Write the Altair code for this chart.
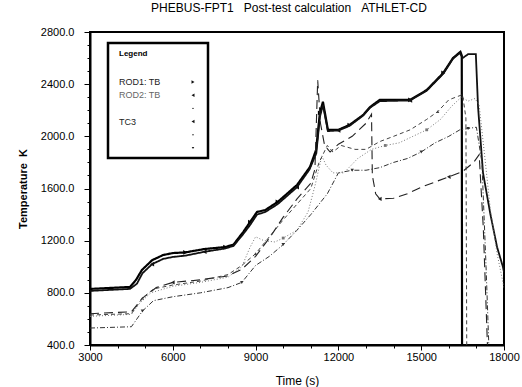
import altair as alt
import pandas as pd

NB = "\u00a0"
title_text = "PHEBUS-FPT1" + NB * 3 + "Post-test calculation" + NB * 3 + "ATHLET-CD"
x_title = "Time (s)"
y_title = "Temperature" + NB * 2 + "K"
FONT = "Liberation Sans"

# ---- series values (time s, temperature K) ----
rod1_t = [3000, 4450, 4670, 4880, 5250, 5650, 6000, 6450, 7150, 7900, 8200, 8550, 8800, 9050, 9350,
          9800, 10500, 10970, 11190, 11330, 11440, 11620, 12000, 12400, 12900, 13150, 13500, 14600,
          15200, 15800, 16150, 16420, 16470, 16480]
rod1_T = [830, 845, 900, 975, 1050, 1090, 1105, 1110, 1136, 1151, 1170, 1266, 1343, 1420, 1435,
          1497, 1627, 1765, 1895, 2180, 2265, 2050, 2050, 2087, 2164, 2225, 2280, 2280,
          2355, 2486, 2600, 2648, 2620, 400]
rod1_mk = [7, 9, 12, 15, 19, 23, 27, 29]

rod2_t = [3000, 4450, 4700, 4900, 5250, 5650, 6000, 6450, 7150, 7900, 8200, 8550, 8800, 9050, 9350,
          9800, 10500, 10950, 11200, 11330, 11440, 11620, 12000, 12400, 12900, 13150, 13500, 14600,
          15200, 15800, 16150, 16400, 16500, 16700, 16980, 17060, 17240, 17500, 17750, 17960, 18000]
rod2_T = [815, 830, 870, 950, 1020, 1060, 1075, 1085, 1115, 1140, 1160, 1250, 1320, 1400, 1420,
          1480, 1610, 1745, 1870, 2150, 2240, 2040, 2045, 2080, 2160, 2220, 2270, 2275,
          2350, 2480, 2595, 2640, 2600, 2630, 2630, 2225, 1720, 1410, 1150, 1000, 960]
rod2_mk = [4, 8, 16, 22, 27]

s3_t = [3000, 4500, 4800, 5200, 6000, 7000, 8000, 8500, 8800, 9000, 9300, 9700, 10000, 10500, 10900,
        11150, 11400, 11550, 11800, 12200, 12700, 13200, 13700, 14200, 14700, 15200, 15700, 16100,
        16450, 16700, 16950, 17100, 17300, 17500, 17750, 18000]
s3_T = [620, 635, 720, 800, 850, 880, 920, 1000, 1150, 1230, 1200, 1190, 1220, 1280, 1420,
        1620, 1850, 1780, 1720, 1720, 1830, 1900, 1930, 1950, 2000, 2050, 2130, 2230,
        2300, 2270, 2290, 2240, 1850, 1450, 1100, 840]
s3_mk = [12, 22, 25]

tc3_t = [3000, 4500, 4900, 5400, 6000, 7000, 8000, 8500, 9000, 9500, 10000, 10500, 11000, 11150,
         11250, 11350, 11500, 11700, 12000, 12500, 13000, 13200, 13230, 13350, 13500, 14000, 14500,
         15000, 15500, 16000, 16500, 16900, 17100, 17250, 17400]
tc3_T = [640, 655, 760, 840, 880, 900, 930, 980, 1080, 1220, 1380, 1520, 1640, 1750,
         2430, 2100, 1930, 1880, 1940, 2000, 2100, 2170, 1700, 1560, 1520, 1525, 1560,
         1610, 1650, 1690, 1730, 1800, 1860, 1300, 400]
tc3_mk = [4, 24, 29]

s5_t = [3000, 4500, 4900, 5300, 6000, 7000, 8000, 8500, 9000, 9500, 10000, 10500, 11000, 11300,
        11600, 11800, 12100, 12600, 13000, 13500, 14000, 14600, 15200, 15600, 16000, 16500, 16620, 16650]
s5_T = [630, 640, 760, 830, 860, 890, 940, 1010, 1100, 1230, 1360, 1480, 1600, 1800,
        1930, 1880, 1930, 1900, 1900, 1960, 2000, 2050, 2130, 2190, 2280, 2320, 2140, 400]
s5_mk = [2, 8, 23]

s6_t = [3000, 4500, 4900, 5300, 6000, 7000, 8000, 8500, 9000, 9500, 10000, 10500, 11000, 11300,
        11600, 12000, 12500, 13000, 13500, 14000, 14500, 15000, 15500, 16000, 16400, 16700, 17000,
        17200, 17350, 17450]
s6_T = [530, 540, 660, 740, 770, 800, 840, 880, 1010, 1080, 1170, 1280, 1400, 1480,
        1560, 1720, 1740, 1740, 1760, 1800, 1830, 1880, 1950, 2000, 2050, 2060, 2070,
        1800, 1000, 400]
s6_mk = [2, 7, 10, 16, 21, 25]

legend_labels = ["ROD1: TB", "ROD2: TB", "", "TC3", "", ""]
legend_shapes = ["triangle-right", "triangle-left", "circle", "triangle-left", "circle", "triangle-down"]
legend_sizes = [12, 12, 2, 12, 2, 6]
legend_text_colors = ["#222222", "#666666", "#222222", "#222222", "#222222", "#222222"]

series = [
    dict(name="ROD1: TB", t=rod1_t, T=rod1_T, mk=rod1_mk, color="#000000", width=2.2, dash=[1, 0], shape="triangle-right", msize=22),
    dict(name="ROD2: TB", t=rod2_t, T=rod2_T, mk=rod2_mk, color="#111111", width=1.8, dash=[1, 0], shape="triangle-left", msize=22),
    dict(name="S3", t=s3_t, T=s3_T, mk=s3_mk, color="#777777", width=1.0, dash=[1, 2], shape="square", msize=8),
    dict(name="TC3", t=tc3_t, T=tc3_T, mk=tc3_mk, color="#222222", width=1.1, dash=[9, 5], shape="triangle-left", msize=18),
    dict(name="S5", t=s5_t, T=s5_T, mk=s5_mk, color="#444444", width=1.0, dash=[4, 3], shape="triangle-up", msize=10),
    dict(name="S6", t=s6_t, T=s6_T, mk=s6_mk, color="#333333", width=1.0, dash=[5, 2, 1, 2], shape="triangle-down", msize=12),
]

x_scale = alt.Scale(domain=[3000, 18000], nice=False, zero=False)
y_scale = alt.Scale(domain=[400, 2800], nice=False, zero=False)

x_axis = alt.Axis(
    title=x_title, values=list(range(3000, 18001, 1000)), format="d",
    labelExpr="datum.value % 3000 === 0 ? datum.label : ''",
    tickSize={"condition": {"test": "datum.value % 3000 === 0", "value": 5}, "value": 3},
    labelPadding=1, titlePadding=13, labelOverlap=False, labelFlush=False, grid=False,
)
y_axis = alt.Axis(
    title=y_title, values=list(range(400, 2801, 100)),
    labelExpr="datum.value % 400 === 0 ? format(datum.value, '.1f') : ''",
    tickSize={"condition": {"test": "datum.value % 400 === 0", "value": 6}, "value": 3},
    labelPadding=10, titlePadding=12, labelOverlap=False, labelFlush=False, grid=False,
    titleFontWeight="bold",
)

X = alt.X("t:Q", scale=x_scale, axis=x_axis)
Y = alt.Y("T:Q", scale=y_scale, axis=y_axis)

layers = []
for s in series:
    df = pd.DataFrame({"t": s["t"], "T": s["T"]})
    layers.append(
        alt.Chart(df).mark_line(color=s["color"], strokeWidth=s["width"], strokeDash=s["dash"], clip=True)
        .encode(x=X, y=Y, order="t:Q")
    )
    mdf = df.iloc[s["mk"]]
    layers.append(
        alt.Chart(mdf).mark_point(shape=s["shape"], filled=True, color=s["color"], size=s["msize"], opacity=1, clip=True)
        .encode(x=X, y=Y)
    )

# ---- legend box (decoration, pixel placed) ----
box = alt.Chart(pd.DataFrame({"k": [0]})).mark_rect(fill="white", stroke="black", strokeWidth=2.5).encode(
    x=alt.value(18), x2=alt.value(118), y=alt.value(11), y2=alt.value(126)
)
leg_title = alt.Chart(pd.DataFrame({"k": ["Legend"]})).mark_text(
    align="left", baseline="middle", font=FONT, fontSize=8, fontWeight="bold", color="black"
).encode(x=alt.value(29), y=alt.value(22), text="k:N")

leg_df = pd.DataFrame({
    "label": legend_labels,
    "shape": legend_shapes,
    "msize": legend_sizes,
    "tcol": legend_text_colors,
    "row": list(range(len(legend_labels))),
})
leg_df["py"] = 50 + leg_df["row"] * 13.2
leg_df["px_text"] = 29
leg_df["px_mark"] = 103
leg_text = alt.Chart(leg_df).mark_text(
    align="left", baseline="middle", font=FONT, fontSize=9
).encode(x=alt.X("px_text:Q", scale=None, axis=None), y=alt.Y("py:Q", scale=None, axis=None),
         text="label:N", color=alt.Color("tcol:N", scale=None, legend=None))
leg_marks = alt.Chart(leg_df).mark_point(filled=True, color="#111111", opacity=1).encode(
    x=alt.X("px_mark:Q", scale=None, axis=None), y=alt.Y("py:Q", scale=None, axis=None),
    shape=alt.Shape("shape:N", scale=None, legend=None),
    size=alt.Size("msize:Q", scale=None, legend=None),
)

chart = alt.layer(*layers, box, leg_title, leg_text, leg_marks).properties(
    width=414, height=313,
    padding={"left": 90, "top": 32, "right": 18, "bottom": 42},
    autosize=alt.AutoSizeParams(type="none"),
    title=alt.TitleParams(text=title_text, font=FONT, fontSize=12, fontWeight="normal",
                          anchor="middle", offset=11, dx=-8, color="black"),
).configure_view(stroke="black", strokeWidth=2).configure_axis(
    labelFont=FONT, titleFont=FONT, labelFontSize=11, titleFontSize=11,
    labelColor="black", titleColor="black", domainColor="black", domainWidth=2,
    tickColor="black", tickWidth=1,
).configure_axisX(titleFontWeight="normal", titleFontSize=12)

chart.save("out.html", embed_options={"renderer": "svg", "actions": False})
